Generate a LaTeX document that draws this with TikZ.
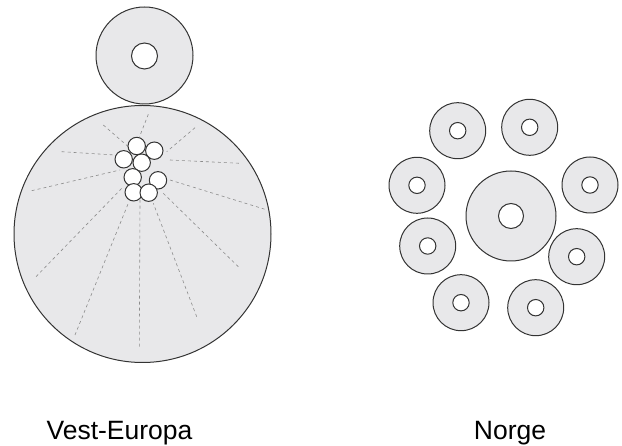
\documentclass[tikz,border=0pt]{standalone}
\usepackage{fontspec}
\setmainfont{Liberation Sans}
\definecolor{diskfill}{HTML}{E8E8EA}
\definecolor{diskline}{HTML}{333333}
\definecolor{rayline}{HTML}{8C8C8C}
\tikzset{
    disk/.style = {draw=diskline, fill=diskfill, line width=1pt},
    hole/.style = {draw=diskline, fill=white, line width=1pt},
    ray/.style = {draw=rayline, dashed, line width=0.6pt},
    lbl/.style = {anchor=base, inner sep=0pt, font=\fontsize{26.5}{30}\selectfont}
}
\begin{document}
\begin{tikzpicture}[x=1pt, y=-1pt]
        \useasboundingbox (0,0) rectangle (622,446);
        % Vest-Europa
        \draw[disk] (144.5,55.5) circle (48.5);
        \draw[hole] (144.5,56) circle (13);
        \draw[disk] (142.5,234) circle (128.5);
        \draw[ray] (148.3,114.3) -- (139.3,137.3);
        \draw[ray] (103.3,125) -- (128.3,146.7);
        \draw[ray] (195,127.7) -- (166.7,151.7);
        \draw[ray] (61.7,151.7) -- (115,155);
        \draw[ray] (170,160) -- (240,163.3);
        \draw[ray] (31.7,190.7) -- (120,170);
        \draw[ray] (170,180) -- (265,209.3);
        \draw[ray] (36,276.7) -- (123.3,186.7);
        \draw[ray] (75,335) -- (128.3,203.3);
        \draw[ray] (139.3,346.7) -- (140,200);
        \draw[ray] (196.7,316.7) -- (153.3,203.3);
        \draw[ray] (238.3,266.7) -- (163.3,193.3);
        \foreach \x/\y in {136.7/146, 154.3/150.7, 123.7/159.3, 141.7/162.7,
                           132.7/177.3, 158/180.3, 133.7/192.3, 148.7/192.7}
            \draw[hole] (\x,\y) circle (8.7);
        % Norge
        \draw[disk] (511,216) circle (45);
        \draw[hole] (511,216) circle (12.5);
        \foreach \x/\y in {457.7/130.7, 529.7/127.3, 417/185.3, 590/185,
                           427.7/246, 576.7/256.7, 461/302.7, 535.7/307.7}
        {
            \draw[disk] (\x,\y) circle (28);
            \draw[hole] (\x,\y) circle (8.2);
        }
        \node[lbl] (vest) at (119.5,440) {Vest-Europa};
        \node[lbl] (norge) at (510,440) {Norge};
\end{tikzpicture}
\end{document}
